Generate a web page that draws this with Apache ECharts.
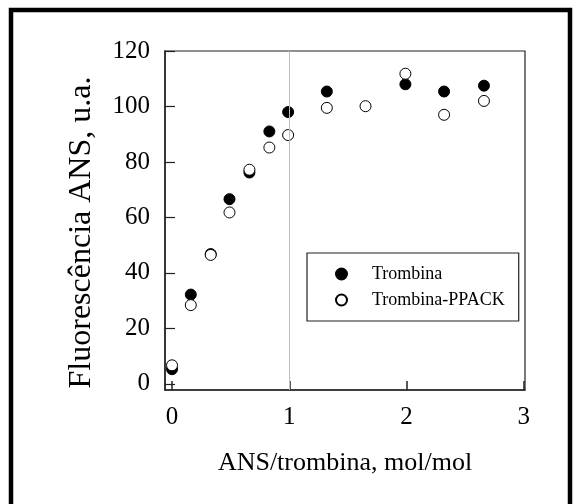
<!DOCTYPE html>
<html>
<head>
<meta charset="utf-8">
<script src="https://cdn.jsdelivr.net/npm/echarts@6/dist/echarts.min.js"></script>
<style>html,body{margin:0;padding:0;background:#fff;}#c{width:579px;height:504px;}</style>
</head>
<body>
<div id="c"></div>
<script>
// Data
const xTrombina = [0, 0.16, 0.33, 0.49, 0.66, 0.83, 0.99, 1.32, 1.99, 2.32, 2.66];
const yTrombina = [5.3, 32.2, 46.8, 66.6, 76.2, 91.0, 98.0, 105.4, 108.0, 105.4, 107.5];
const xPPACK = [0, 0.16, 0.33, 0.49, 0.66, 0.83, 0.99, 1.32, 1.65, 1.99, 2.32, 2.66];
const yPPACK = [6.7, 28.4, 46.5, 61.8, 77.2, 85.2, 89.7, 99.5, 100.1, 111.8, 97.0, 102.0];
const xTicks = [0, 1, 2, 3];
const yTicks = [0, 20, 40, 60, 80, 100, 120];
const seriesNames = ['Trombina', 'Trombina-PPACK'];
const xTitle = 'ANS/trombina, mol/mol';
const yTitle = 'Fluorescência ANS, u.a.';

const font = '"Liberation Serif", "Times New Roman", serif';
const chart = echarts.init(document.getElementById('c'), null, {renderer: 'canvas'});
chart.setOption({
  animation: false,
  backgroundColor: '#fff',
  grid: {left: 165, top: 51, right: 54, bottom: 114, show: true, borderColor: '#222', borderWidth: 1.2, backgroundColor: 'transparent'},
  xAxis: {
    type: 'value', min: -0.06, max: 3.01,
    axisLine: {show: true, onZero: false, lineStyle: {color: '#222', width: 1.5}},
    axisTick: {show: true, inside: true, length: 9, customValues: xTicks, lineStyle: {color: '#222', width: 1.5}},
    axisLabel: {customValues: xTicks, color: '#000', fontFamily: font, fontSize: 25, margin: 15},
    splitLine: {show: false},
    name: xTitle, nameLocation: 'middle', nameGap: 60,
    nameTextStyle: {color: '#000', fontFamily: font, fontSize: 26}
  },
  yAxis: {
    type: 'value', min: -2.2, max: 120,
    axisLine: {show: true, onZero: false, lineStyle: {color: '#222', width: 1.5}},
    axisTick: {show: true, inside: true, length: 10, customValues: yTicks, lineStyle: {color: '#222', width: 1.2}},
    axisLabel: {customValues: yTicks, color: '#000', fontFamily: font, fontSize: 25, margin: 15},
    splitLine: {show: false},
    name: yTitle, nameLocation: 'middle', nameGap: 67, nameRotate: 90,
    nameTextStyle: {color: '#000', fontFamily: font, fontSize: 32, padding: [0, 24, 0, 0]}
  },
  legend: {
    orient: 'vertical', left: 307, top: 253,
    padding: [12, 14, 12, 28],
    itemWidth: 11, itemHeight: 11, itemGap: 8,
    borderColor: '#222', borderWidth: 1.2, backgroundColor: '#fff',
    textStyle: {color: '#000', fontFamily: font, fontSize: 18, padding: [0, 0, 0, 20]},
    data: seriesNames
  },
  series: [
    {
      name: seriesNames[0], type: 'scatter', symbol: 'circle', symbolSize: 11, z: 3,
      itemStyle: {color: '#000', borderColor: '#000', borderWidth: 1, opacity: 1},
      data: xTrombina.map((x, i) => [x, yTrombina[i]]),
      markLine: {
        silent: true, symbol: 'none', label: {show: false},
        lineStyle: {color: '#bdbdbd', width: 1, type: 'solid'},
        data: [{xAxis: 1}]
      }
    },
    {
      name: seriesNames[1], type: 'scatter', symbol: 'circle', symbolSize: 11, z: 4,
      itemStyle: {color: '#fff', borderColor: '#000', borderWidth: 1, opacity: 1},
      data: xPPACK.map((x, i) => [x, yPPACK[i]])
    }
  ],
  graphic: [{
    type: 'polyline', silent: true,
    shape: {points: [[11, 504], [11, 10], [570, 10], [570, 504]]},
    style: {stroke: '#000', lineWidth: 4.5, fill: null}
  }]
});
</script>
</body>
</html>
